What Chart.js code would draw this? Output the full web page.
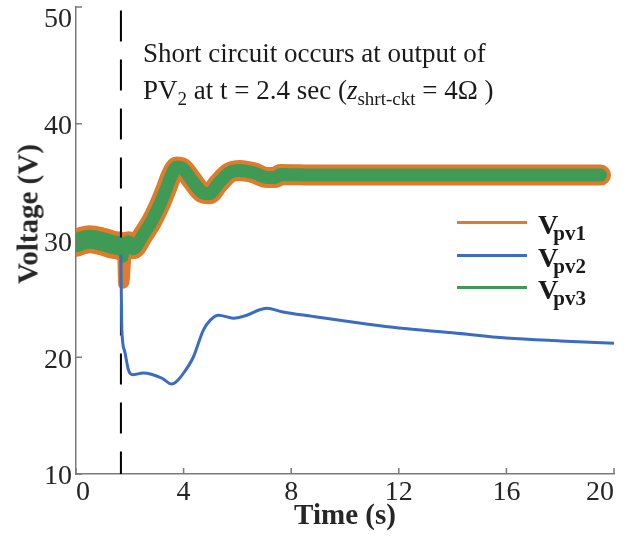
<!DOCTYPE html>
<html>
<head>
<meta charset="utf-8">
<script src="https://cdn.jsdelivr.net/npm/chart.js"></script>
<style>
  body { margin: 0; background: #fff; }
  #wrap { position: relative; width: 626px; height: 537px; font-family: 'Liberation Serif', 'Times New Roman', serif; color: #1a1a1a; }
  canvas { position: absolute; left: 0; top: 0; }
  .note { position: absolute; left: 143px; font-size: 27px; line-height: 27px; white-space: nowrap; }
  .note sub { font-size: 19px; line-height: 0; vertical-align: -6px; }
  .ylab { position: absolute; left: 28px; top: 214px; transform: translate(-50%, -50%) rotate(-90deg); font-weight: bold; font-size: 29px; line-height: 29px; white-space: nowrap; color: #262626; }
  .key { position: absolute; left: 457px; width: 70px; height: 3px; }
  .keytext { position: absolute; left: 538px; font-weight: bold; font-size: 28px; line-height: 28px; white-space: nowrap; }
  .keytext sub { font-size: 21px; line-height: 0; vertical-align: -6px; margin-left: -5px; }
</style>
</head>
<body>
<div id="wrap">
  <canvas id="chart" width="626" height="537"></canvas>
  <div class="ylab">Voltage (V)</div>
  <div class="note" style="top:40px">Short circuit occurs at output of</div>
  <div class="note" style="top:77px">PV<sub>2</sub> at t = 2.4 sec (<i>z</i><sub>shrt-ckt</sub> = 4&Omega; )</div>
  <div class="key" style="top:221px;background:#E07B2C"></div>
  <div class="key" style="top:254px;background:#3A6DBF"></div>
  <div class="key" style="top:286px;background:#3E9A55"></div>
  <div class="keytext" style="top:211px">V<sub>pv1</sub></div>
  <div class="keytext" style="top:244px">V<sub>pv2</sub></div>
  <div class="keytext" style="top:276px">V<sub>pv3</sub></div>
</div>
<script>
'use strict';

// time axis (s) and voltages (V)
var timePv1 = [0, 0.25, 0.5, 1.0, 1.5, 1.67, 1.72, 1.84, 1.95, 2.12, 2.5, 2.8, 3.1, 3.35, 3.55, 3.75, 3.95, 4.3, 4.7, 4.95, 5.3, 5.7, 6.1, 6.6, 7.1, 7.4, 7.6, 9, 11, 13, 15, 17, 19.5];
var vPv1 = [29.8, 30.0, 30.1, 29.9, 29.6, 29.5, 26.2, 26.4, 29.9, 29.3, 30.5, 31.6, 33.0, 34.4, 35.6, 36.3, 36.2, 35.2, 34.1, 34.0, 34.9, 35.8, 36.0, 35.8, 35.4, 35.4, 35.65, 35.6, 35.6, 35.6, 35.6, 35.6, 35.6];

var timePv3 = [0, 0.25, 0.5, 1.0, 1.5, 1.67, 1.72, 1.84, 1.95, 2.12, 2.5, 2.8, 3.1, 3.35, 3.55, 3.75, 3.95, 4.3, 4.7, 4.95, 5.3, 5.7, 6.1, 6.6, 7.1, 7.4, 7.6, 9, 11, 13, 15, 17, 19.5];
var vPv3 = [29.8, 30.0, 30.1, 29.9, 29.6, 29.5, 28.3, 28.4, 29.9, 29.3, 30.5, 31.6, 33.0, 34.4, 35.6, 36.3, 36.2, 35.2, 34.1, 34.0, 34.9, 35.8, 36.0, 35.8, 35.4, 35.4, 35.65, 35.6, 35.6, 35.6, 35.6, 35.6, 35.6];

var timePv2 = [1.67, 1.7, 1.8, 1.95, 2.1, 2.5, 2.8, 3.2, 3.56, 3.75, 4.0, 4.36, 4.73, 5.0, 5.3, 5.85, 6.35, 6.8, 7.1, 7.65, 8.8, 10, 12, 14, 16, 18, 20];
var vPv2 = [28.8, 22.6, 20.6, 18.9, 18.5, 18.65, 18.55, 18.2, 17.7, 17.95, 18.65, 20.0, 22.3, 23.2, 23.6, 23.35, 23.6, 24.05, 24.2, 23.9, 23.5, 23.1, 22.5, 22.1, 21.65, 21.4, 21.2];

// fault instant marker
var faultTime = [1.67, 1.67];
var faultV = [49.7, 10];

var xTicks = [0, 4, 8, 12, 16, 20];
var yTicks = [10, 20, 30, 40, 50];

var serifFont = "'Liberation Serif', 'Times New Roman', serif";
var axisColor = '#7a7a7a';
var textColor = '#262626';

function toPoints(xs, ys) {
  var pts = [];
  for (var i = 0; i < xs.length; i++) {
    pts.push({ x: xs[i], y: ys[i] });
  }
  return pts;
}

// the noisy band is wider before the fault and thin on the fault spike
function bandWidth(before, spike, after) {
  return function(ctx) {
    var t = ctx.p0.parsed.x;
    if (t < 1.66) return before;
    if (t < 1.9) return spike;
    return after;
  };
}

var innerTicks = {
  id: 'innerTicks',
  afterDatasetsDraw: function(chart) {
    var c = chart.ctx;
    var area = chart.chartArea;
    var xs = chart.scales.x;
    var ys = chart.scales.y;
    c.save();
    c.strokeStyle = axisColor;
    c.lineWidth = 1.5;
    c.beginPath();
    xTicks.forEach(function(v) {
      var px = xs.getPixelForValue(v);
      c.moveTo(px, area.bottom);
      c.lineTo(px, area.bottom - 6);
    });
    yTicks.forEach(function(v) {
      var py = ys.getPixelForValue(v);
      c.moveTo(area.left, py);
      c.lineTo(area.left + 6, py);
    });
    c.stroke();
    c.restore();
  }
};

var ctx = document.getElementById('chart').getContext('2d');
new Chart(ctx, {
  type: 'line',
  data: {
    datasets: [
      {
        label: 'Vpv2',
        data: toPoints(timePv2, vPv2),
        borderColor: '#3A6DBF',
        borderWidth: 3,
        cubicInterpolationMode: 'monotone',
        pointRadius: 0,
        order: 0
      },
      {
        label: 'fault',
        data: toPoints(faultTime, faultV),
        borderColor: '#000000',
        borderWidth: 2,
        borderDash: [31, 18],
        pointRadius: 0,
        order: 1
      },
      {
        label: 'Vpv3',
        data: toPoints(timePv3, vPv3),
        borderColor: '#3E9A55',
        borderWidth: 13,
        borderCapStyle: 'round',
        borderJoinStyle: 'round',
        cubicInterpolationMode: 'monotone',
        pointRadius: 0,
        clip: 0,
        segment: { borderWidth: bandWidth(19, 5, 13) },
        order: 2
      },
      {
        label: 'Vpv1',
        data: toPoints(timePv1, vPv1),
        borderColor: '#E07B2C',
        borderWidth: 21,
        borderCapStyle: 'round',
        borderJoinStyle: 'round',
        cubicInterpolationMode: 'monotone',
        pointRadius: 0,
        clip: 0,
        segment: { borderWidth: bandWidth(28, 8, 21) },
        order: 3
      }
    ]
  },
  options: {
    responsive: false,
    animation: false,
    layout: { padding: { top: 7, right: 12, left: 0, bottom: 0 } },
    plugins: {
      legend: { display: false },
      tooltip: { enabled: false }
    },
    scales: {
      x: {
        type: 'linear',
        min: 0,
        max: 20,
        afterBuildTicks: function(scale) {
          scale.ticks = xTicks.map(function(v) { return { value: v }; });
        },
        ticks: {
          align: 'inner',
          padding: 2,
          color: textColor,
          font: { family: serifFont, size: 28 }
        },
        grid: { display: false, drawTicks: false },
        border: { color: axisColor, width: 1.5 },
        title: {
          display: true,
          text: 'Time (s)',
          color: textColor,
          font: { family: serifFont, size: 29, weight: 'bold' },
          padding: { top: 0, bottom: 3 }
        },
        afterFit: function(scale) {
          scale.height = 63;
          scale.paddingLeft = 0;
          scale.paddingRight = 0;
        }
      },
      y: {
        type: 'linear',
        min: 10,
        max: 50,
        afterBuildTicks: function(scale) {
          scale.ticks = yTicks.map(function(v) { return { value: v }; });
        },
        ticks: {
          padding: 4,
          color: textColor,
          // two-line labels: the empty first line nudges each number down a little,
          // the top one more so it sits inside the axis like the original
          font: function(c) {
            return { family: serifFont, size: 28, lineHeight: c.tick && c.tick.value === 50 ? '26px' : '6px' };
          },
          callback: function(v) { return ['', String(v)]; }
        },
        grid: { display: false, drawTicks: false },
        border: { color: axisColor, width: 1.5 },
        afterFit: function(scale) {
          scale.width = 76;
          scale.paddingTop = 0;
          scale.paddingBottom = 0;
        }
      }
    }
  },
  plugins: [innerTicks]
});
</script>
</body>
</html>
